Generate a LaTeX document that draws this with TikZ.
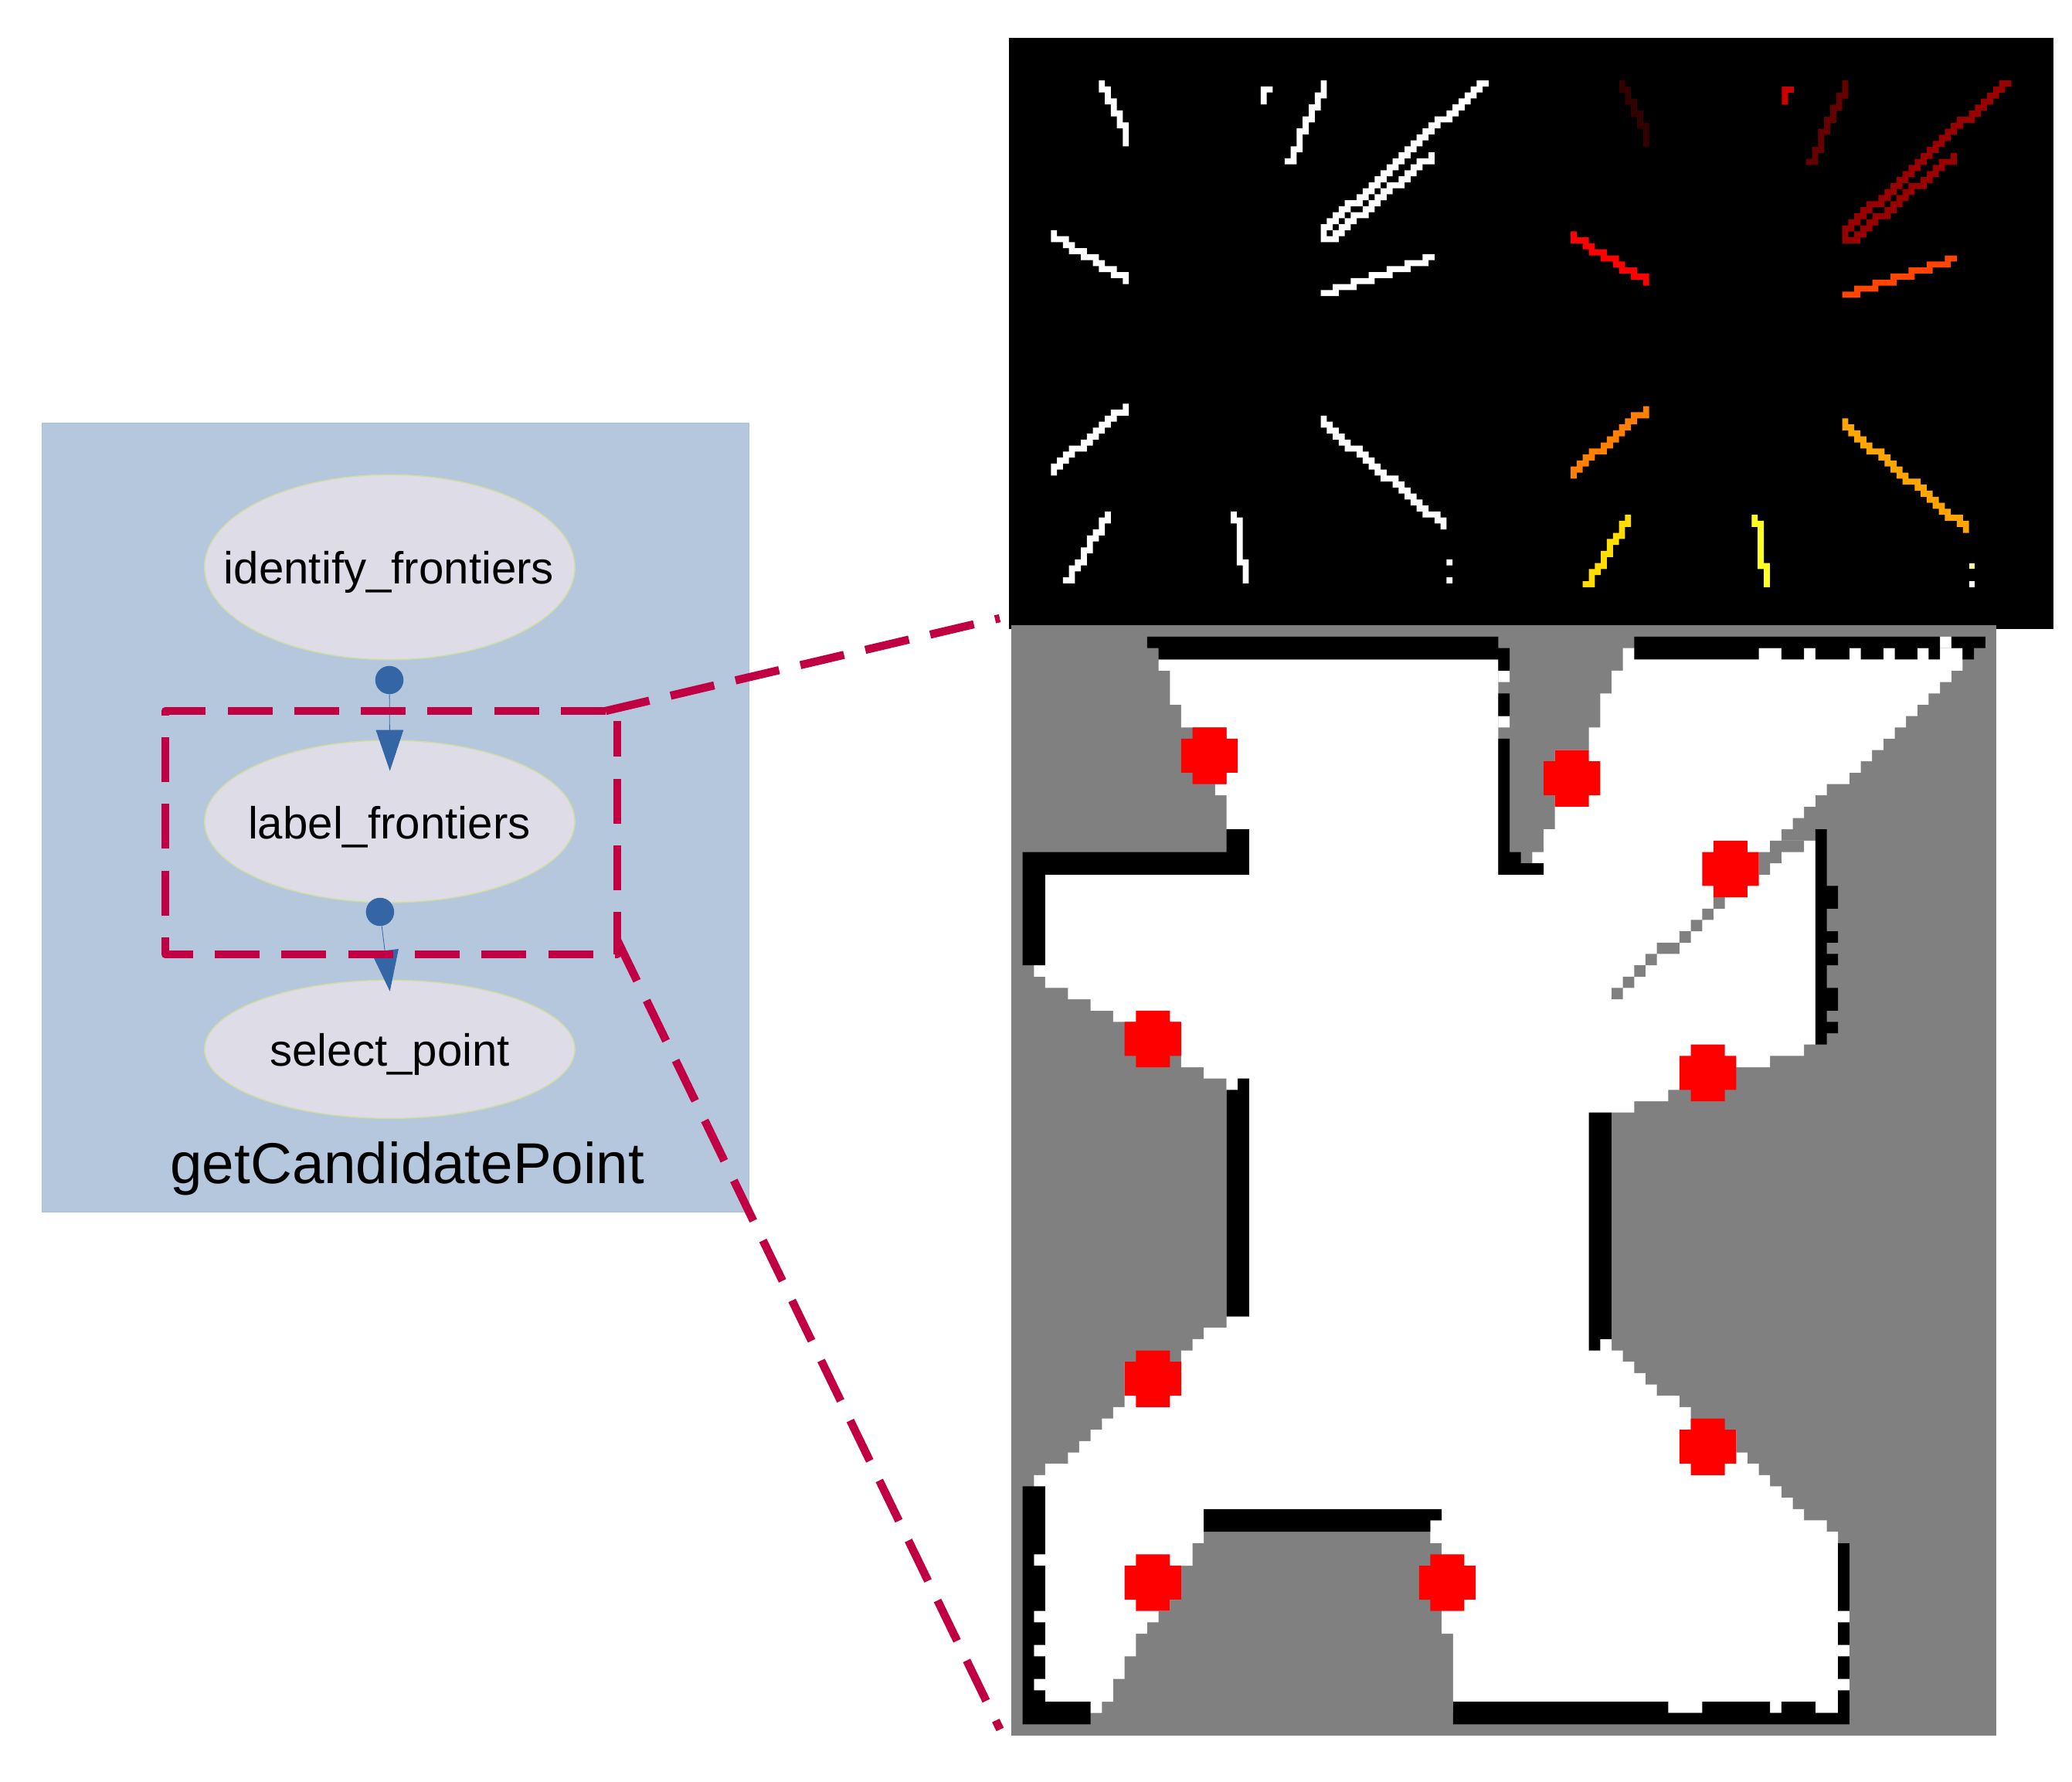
\documentclass[tikz,border=0pt]{standalone}
\usepackage{fontspec}
\setmainfont{Liberation Sans}
\usetikzlibrary{shapes.geometric,arrows.meta}
\definecolor{clusterblue}{HTML}{B4C7DD}
\definecolor{clusteredge}{HTML}{A6C0E0}
\definecolor{ellfill}{HTML}{DEDDE7}
\definecolor{elledge}{HTML}{CFDCA6}
\definecolor{dotblue}{HTML}{3465A4}
\definecolor{magline}{HTML}{C00042}
\definecolor{mapgray}{HTML}{808080}
\definecolor{mapred}{HTML}{FF0000}
\def\cel#1#2#3{(#2,#1) rectangle (#3,#1+1)}
\def\crossat#1#2{(#1,#2+1) rectangle (#1+5,#2+4) (#1+1,#2) rectangle (#1+4,#2+5)}
\def\shA{\cel{0}{8}{9}\cel{1}{8}{10}\cel{2}{9}{10}\cel{3}{9}{11}\cel{4}{10}{11}\cel{5}{10}{12}\cel{6}{11}{12}\cel{7}{11}{13}\cel{8}{12}{13}\cel{9}{12}{13}\cel{10}{12}{13}}
\def\shB{\cel{1}{35}{37}\cel{2}{35}{36}\cel{3}{35}{36}}
\def\shC{\cel{0}{45}{46}\cel{1}{45}{46}\cel{2}{44}{46}\cel{3}{44}{45}\cel{4}{43}{45}\cel{5}{43}{44}\cel{6}{42}{44}\cel{7}{42}{43}\cel{8}{41}{43}\cel{9}{41}{42}\cel{10}{41}{42}\cel{11}{40}{42}\cel{12}{40}{41}\cel{13}{39}{41}}
\def\shD{\cel{0}{71}{73}\cel{1}{70}{72}\cel{2}{69}{71}\cel{3}{68}{70}\cel{4}{67}{69}\cel{5}{66}{68}\cel{6}{64}{67}\cel{7}{63}{65}\cel{8}{62}{64}\cel{9}{61}{63}\cel{10}{60}{62}\cel{11}{59}{61}\cel{12}{58}{60}\cel{12}{63}{64}\cel{13}{57}{59}\cel{13}{61}{64}\cel{14}{56}{58}\cel{14}{60}{62}\cel{15}{55}{57}\cel{15}{59}{61}\cel{16}{54}{56}\cel{16}{58}{60}\cel{17}{53}{55}\cel{17}{56}{59}\cel{18}{52}{54}\cel{18}{55}{57}\cel{19}{51}{53}\cel{19}{54}{56}\cel{20}{49}{52}\cel{20}{53}{55}\cel{21}{48}{50}\cel{21}{52}{54}\cel{22}{47}{49}\cel{22}{50}{53}\cel{23}{46}{48}\cel{23}{49}{51}\cel{24}{45}{47}\cel{24}{48}{50}\cel{25}{45}{46}\cel{25}{47}{49}\cel{26}{45}{48}}
\def\shE{\cel{25}{0}{1}\cel{26}{0}{3}\cel{27}{2}{4}\cel{28}{3}{6}\cel{29}{5}{8}\cel{30}{7}{9}\cel{31}{8}{11}\cel{32}{10}{13}\cel{33}{12}{13}}
\def\shF{\cel{29}{62}{64}\cel{30}{59}{63}\cel{31}{56}{60}\cel{32}{53}{57}\cel{33}{50}{54}\cel{34}{47}{51}\cel{35}{45}{48}}
\def\shG{\cel{54}{12}{13}\cel{55}{10}{13}\cel{56}{9}{11}\cel{57}{8}{10}\cel{58}{7}{9}\cel{59}{6}{8}\cel{60}{5}{7}\cel{61}{3}{6}\cel{62}{2}{4}\cel{63}{1}{3}\cel{64}{0}{2}\cel{65}{0}{1}}
\def\shH{\cel{56}{45}{46}\cel{57}{45}{47}\cel{58}{46}{48}\cel{59}{47}{49}\cel{60}{48}{50}\cel{61}{49}{52}\cel{62}{51}{53}\cel{63}{52}{54}\cel{64}{53}{55}\cel{65}{54}{56}\cel{66}{55}{58}\cel{67}{57}{59}\cel{68}{58}{60}\cel{69}{59}{61}\cel{70}{60}{62}\cel{71}{61}{63}\cel{72}{62}{65}\cel{73}{64}{66}\cel{74}{65}{66}}
\def\shI{\cel{72}{9}{10}\cel{73}{8}{10}\cel{74}{8}{9}\cel{75}{7}{9}\cel{76}{6}{8}\cel{77}{6}{7}\cel{78}{5}{7}\cel{79}{5}{6}\cel{80}{4}{6}\cel{81}{3}{5}\cel{82}{3}{4}\cel{83}{2}{4}}
\def\shJ{\cel{72}{30}{31}\cel{73}{30}{32}(31,74) rectangle (32,80)\cel{80}{31}{33}(32,81) rectangle (33,84)}
\def\shDa{\cel{80}{66}{67}}
\def\shDb{\cel{83}{66}{67}}
\tikzset{
  cluster/.style={draw=clusteredge,line width=1pt,fill=clusterblue,inner sep=0pt,anchor=north west,minimum width=915.4pt,minimum height=1020.7pt},
  proc/.style={shape=ellipse,draw=elledge,line width=1.5pt,fill=ellfill,inner sep=0pt,minimum width=479.4pt},
  proctext/.style={anchor=base,inner sep=0pt,font=\fontsize{58.2}{60}\selectfont},
  clustertext/.style={anchor=base,inner sep=0pt,font=\fontsize{74.6}{78}\selectfont},
  portdot/.style={shape=circle,fill=dotblue,inner sep=0pt,minimum size=36.5pt},
  flow/.style={draw=dotblue,line width=0.8pt,-{Triangle[length=53pt,width=35.5pt,fill=dotblue]}},
  zoomline/.style={draw=magline,line width=10.5pt,line join=round,dash pattern=on 58pt off 28.3pt}
}
\begin{document}
\begin{tikzpicture}[x=1pt,y=-1pt]
\useasboundingbox (0,0) rectangle (2682,2305);
\fill[white] (0,0) rectangle (2682,2305);
% left graph
\node[cluster] (box) at (54,547.3) {};
\node[proc,minimum height=239.4pt] (identify) at (504.4,734) {};
\node[proc,minimum height=210pt] (label) at (504.4,1063) {};
\node[proc,minimum height=179pt] (select) at (504.4,1357.8) {};
\node[proctext] (identifyT) at (503.5,755) {identify\_frontiers};
\node[proctext] (labelT) at (503.8,1085.5) {label\_frontiers};
\node[proctext] (selectT) at (504.7,1379) {select\_point};
\node[clustertext] (boxT) at (527.4,1531.5) {getCandidatePoint};
\node[portdot] (p1) at (504,880) {};
\node[portdot] (p2) at (491.9,1180) {};
\coordinate (t1) at (504.7,997.6);
\coordinate (t2) at (504.7,1282.8);
\draw[flow] (p1) -- (t1);
\draw[flow] (p2) -- (t2);
% dashed zoom lines
\coordinate (za) at (784,920);
\coordinate (zb) at (213.9,920);
\coordinate (zc) at (213.9,1235);
\coordinate (zd) at (799,1235);
\coordinate (ze) at (799,933);
\coordinate (zf) at (1294,800);
\coordinate (zg) at (799.2,1217);
\coordinate (zh) at (1294.5,2238);
\draw[zoomline] (za) -- (zb) -- (zc) -- (zd) -- (ze);
\draw[zoomline] (za) -- (zf);
\draw[zoomline] (zg) -- (zh);
% top image
\fill[black] (1305.8,49) rectangle (2658,813.6);
\begin{scope}[shift={(1360.3,104.2)},x=7.76pt,y=-7.745pt]
\fill[white] \shA \shB \shC \shD \shE \shF \shG \shH \shI \shJ \shDa \shDb;
\end{scope}
\begin{scope}[shift={(2033.1,104.2)},x=7.81pt,y=-7.805pt]
\fill[fill={rgb,255:red,51;green,0;blue,0}] \shA;
\fill[fill={rgb,255:red,204;green,0;blue,0}] \shB;
\fill[fill={rgb,255:red,102;green,0;blue,0}] \shC;
\fill[fill={rgb,255:red,153;green,0;blue,0}] \shD;
\fill[fill={rgb,255:red,255;green,0;blue,0}] \shE;
\fill[fill={rgb,255:red,255;green,69;blue,0}] \shF;
\fill[fill={rgb,255:red,255;green,128;blue,0}] \shG;
\fill[fill={rgb,255:red,255;green,165;blue,0}] \shH;
\fill[fill={rgb,255:red,255;green,221;blue,0}] \shI;
\fill[fill={rgb,255:red,255;green,255;blue,34}] \shJ;
\fill[fill={rgb,255:red,255;green,255;blue,153}] \shDa;
\fill[white] \shDb;
\end{scope}
% map
\begin{scope}[shift={(1309,809.3)},x=14.66pt,y=-14.66pt]
\fill[mapgray] (0,0) rectangle (87,98);
\fill[white] (13,3) -- (43,3) -- (43,22) -- (47,22) -- (47,21) -- (46,21) -- (46,20) -- (47,20) -- (47,18) -- (48,18) -- (48,11) -- (51,11) -- (51,9) -- (52,9) -- (52,6) -- (53,6) -- (53,4) -- (54,4) -- (54,2) -- (84,2) -- (84,4) -- (83,4) -- (83,5) -- (82,5) -- (82,6) -- (81,6) -- (81,7) -- (80,7) -- (80,8) -- (79,8) -- (79,9) -- (78,9) -- (78,10) -- (77,10) -- (77,11) -- (76,11) -- (76,12) -- (75,12) -- (75,13) -- (74,13) -- (74,14) -- (72,14) -- (72,15) -- (71,15) -- (71,16) -- (70,16) -- (70,17) -- (69,17) -- (69,18) -- (68,18) -- (68,19) -- (71,19) -- (71,37) -- (70,37) -- (70,38) -- (67,38) -- (67,39) -- (59,39) -- (59,41) -- (58,41) -- (58,42) -- (55,42) -- (55,43) -- (53,43) -- (53,64) -- (54,64) -- (54,65) -- (55,65) -- (55,66) -- (56,66) -- (56,67) -- (57,67) -- (57,68) -- (59,68) -- (59,69) -- (60,69) -- (60,71) -- (64,71) -- (64,73) -- (65,73) -- (65,74) -- (66,74) -- (66,75) -- (67,75) -- (67,76) -- (68,76) -- (68,77) -- (69,77) -- (69,78) -- (70,78) -- (70,79) -- (72,79) -- (72,80) -- (73,80) -- (73,81) -- (74,81) -- (74,96) -- (39,96) -- (39,89) -- (38,89) -- (38,81) -- (37,81) -- (37,79) -- (38,79) -- (38,78) -- (17,78) -- (17,81) -- (16,81) -- (16,83) -- (15,83) -- (15,86) -- (14,86) -- (14,87) -- (13,87) -- (13,88) -- (12,88) -- (12,89) -- (11,89) -- (11,91) -- (10,91) -- (10,93) -- (9,93) -- (9,95) -- (8,95) -- (8,96) -- (2,96) -- (2,75) -- (3,75) -- (3,74) -- (5,74) -- (5,73) -- (6,73) -- (6,72) -- (7,72) -- (7,71) -- (8,71) -- (8,70) -- (9,70) -- (9,69) -- (10,69) -- (10,65) -- (15,65) -- (15,64) -- (16,64) -- (16,63) -- (17,63) -- (17,62) -- (19,62) -- (19,40) -- (17,40) -- (17,39) -- (15,39) -- (15,35) -- (9,35) -- (9,34) -- (7,34) -- (7,33) -- (5,33) -- (5,32) -- (3,32) -- (3,31) -- (2,31) -- (2,30) -- (3,30) -- (3,22) -- (21,22) -- (21,18) -- (19,18) -- (19,15) -- (18,15) -- (18,14) -- (19,14) -- (19,13) -- (20,13) -- (20,10) -- (19,10) -- (19,9) -- (15,9) -- (15,7) -- (14,7) -- (14,4) -- (13,4) -- cycle;
\fill[white] (43,4) rectangle (44,5) (43,8) rectangle (44,9) (82,1) rectangle (83,2) (19,40) rectangle (20,41);
\fill[mapgray] (67,19) rectangle (70,20) (66,20) rectangle (68,21) (66,21) rectangle (67,22) (62,24) rectangle (63,25) (61,25) rectangle (62,26) (60,26) rectangle (61,27) (59,27) rectangle (60,28) (57,28) rectangle (59,29) (56,29) rectangle (57,30) (55,30) rectangle (56,31) (54,31) rectangle (55,32) (53,32) rectangle (54,33);
\fill[black] (12,1) rectangle (43,2) (13,2) rectangle (44,3) (43,3) rectangle (44,4) (43,6) rectangle (44,8) (43,10) rectangle (44,22) (44,20) rectangle (45,22) (45,21) rectangle (47,22)
 (1,20) rectangle (21,22) (19,18) rectangle (21,20) (1,22) rectangle (3,30)
 (20,40) rectangle (21,41) (19,41) rectangle (21,61)
 (1,76) rectangle (3,82) (1,82) rectangle (2,83) (1,83) rectangle (3,87) (1,87) rectangle (2,88) (1,88) rectangle (3,90) (1,90) rectangle (2,91) (1,91) rectangle (3,93) (1,93) rectangle (2,94) (1,94) rectangle (3,95) (1,95) rectangle (7,97)
 (17,78) rectangle (38,79) (17,79) rectangle (37,80)
 (39,96) rectangle (74,97) (39,95) rectangle (58,96) (61,95) rectangle (67,96) (68,95) rectangle (71,96) (73,94) rectangle (74,96) (73,91) rectangle (74,93) (73,88) rectangle (74,90) (73,81) rectangle (74,87)
 (51,43) rectangle (53,63) (51,63) rectangle (52,64)
 (71,18) rectangle (72,37) (72,23) rectangle (73,25) (72,27) rectangle (73,28) (72,29) rectangle (73,30) (72,32) rectangle (73,34) (72,35) rectangle (73,36)
 (55,1) rectangle (82,2) (83,1) rectangle (86,2) (55,2) rectangle (66,3) (68,2) rectangle (70,3) (71,2) rectangle (74,3) (75,2) rectangle (77,3) (78,2) rectangle (80,3) (81,2) rectangle (82,3) (84,2) rectangle (85,3);
\fill[mapred] \crossat{15}{9} \crossat{47}{11} \crossat{61}{19} \crossat{10}{34} \crossat{59}{37} \crossat{10}{64} \crossat{59}{70} \crossat{10}{82} \crossat{36}{82};
\end{scope}
\end{tikzpicture}
\end{document}
